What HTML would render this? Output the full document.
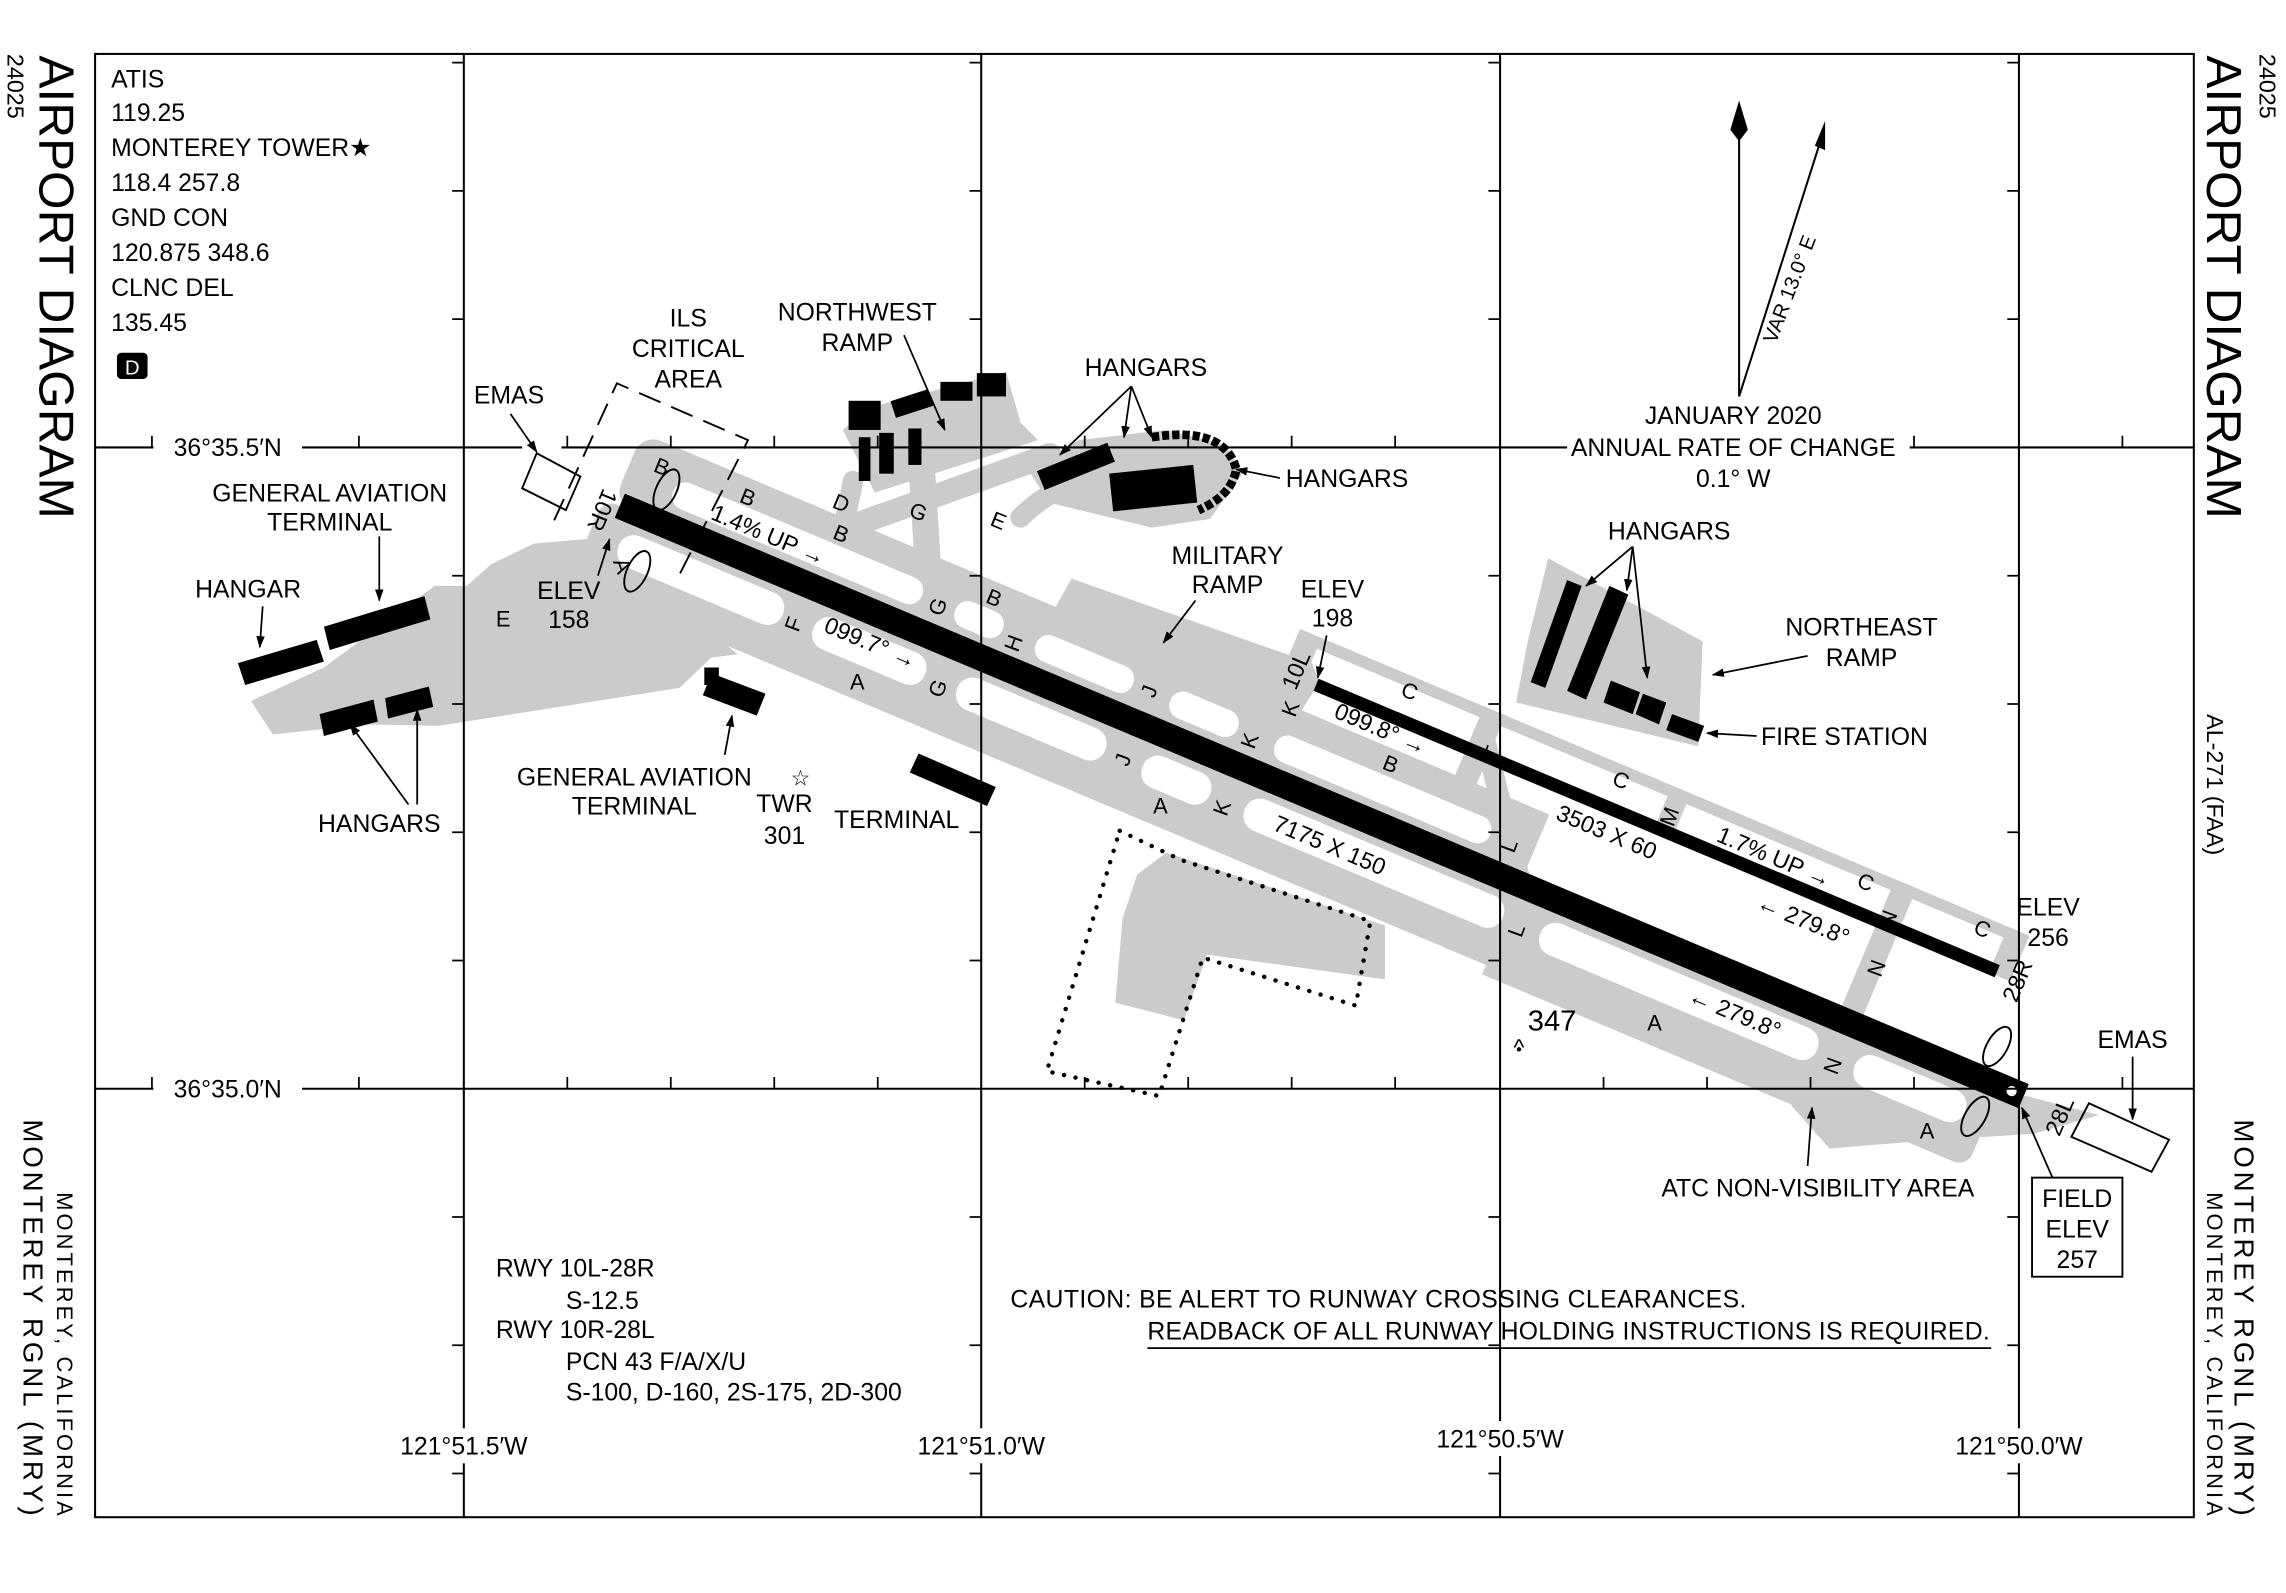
<!DOCTYPE html>
<html><head><meta charset="utf-8"><style>
html,body{margin:0;padding:0;background:#fff}
svg{display:block}
text{font-family:"Liberation Sans",sans-serif;fill:#000}
</style></head><body>
<svg width="2286" height="1593" viewBox="0 0 1568 1093" xmlns="http://www.w3.org/2000/svg">
<defs>
<marker id="ar" viewBox="0 0 10 10" refX="9" refY="5" markerWidth="7" markerHeight="7" orient="auto-start-reverse"><path d="M0,1.5 L10,5 L0,8.5 z" fill="#000"/></marker>
</defs>
<rect width="1568" height="1093" fill="#fff"/>

<!-- ===== GRAY PAVEMENT ===== -->
<g fill="#cbcbcb" stroke="none">
<polygon points="187,504 172,481 222,458 298,402 320,402 337,387 366,373 423,368 440,395 506,449 488,451 466,472 352,490 300,498 250,497"/>
<polygon points="578,295 595,280 690,255 700,290 712,302 650,322 600,338"/>
<polygon points="705,322 740,302 800,295 840,305 852,325 830,356 790,362 720,345"/>
<polygon points="735,397 722,420 890,492 905,468 900,455"/>
<polygon points="1062,383 1168,440 1165,512 1040,482 1048,440"/>
<polygon points="780,600 800,585 950,635 950,672 828,655 812,700 765,688 770,630"/>
<polygon points="1210,730 1300,760 1390,752 1440,765 1395,778 1330,782 1255,788 1230,760"/>
</g>
<g stroke="#cbcbcb" fill="none" stroke-linecap="round">
<line x1="545" y1="375" x2="720" y2="312" stroke-width="16"/>
<line x1="637" y1="398" x2="632" y2="318" stroke-width="18"/>
<line x1="575" y1="380" x2="585" y2="330" stroke-width="14"/>
<path d="M700 355 Q720 335 745 330" stroke-width="14"/>
<line x1="1018" y1="505" x2="1052" y2="640" stroke-width="14"/>
</g>

<g transform="translate(425,347) rotate(22.81)">
 <g fill="#cbcbcb">
  <rect x="-12" y="0" width="1040" height="60" rx="10"/>
  <rect x="-5" y="-52" width="670" height="52" rx="14"/>
  <rect x="465" y="-103" width="540" height="8"/>
  <rect x="463" y="-103" width="16" height="90"/>
  <rect x="740" y="-103" width="14" height="30"/>
  <rect x="906" y="-103" width="16" height="164"/>
  <rect x="990" y="-103" width="16" height="34"/>
  <rect x="600" y="-103" width="16" height="60"/>
  <rect x="640" y="-52" width="30" height="112"/>
  <rect x="670" y="55" width="260" height="12"/>
 </g>
 <g fill="#fff">
  <rect x="10" y="14" width="122" height="23" rx="11"/>
  <rect x="155" y="14" width="83" height="23" rx="11"/>
  <rect x="262" y="14" width="110" height="23" rx="11"/>
  <rect x="400" y="14" width="50" height="23" rx="11"/>
  <rect x="476" y="14" width="192" height="23" rx="11"/>
  <rect x="696" y="14" width="206" height="23" rx="11"/>
  <rect x="930" y="14" width="82" height="23" rx="11"/>
  <rect x="30" y="-33" width="185" height="19" rx="9"/>
  <rect x="240" y="-33" width="35" height="19" rx="9"/>
  <rect x="300" y="-33" width="72" height="19" rx="9"/>
  <rect x="400" y="-33" width="50" height="19" rx="9"/>
  <rect x="478" y="-33" width="160" height="19" rx="9"/>
 </g>
 <rect x="0" y="-9" width="1045" height="18" fill="#000"/>
 <circle cx="1036" cy="0" r="3.5" fill="#fff"/>
 <rect x="488" y="-76.5" width="507" height="9" fill="#000"/>
</g>

<polyline points="768,570 810,590 940,632 930,690 825,657 795,752 718,735 768,570" fill="none" stroke="#000" stroke-width="3" stroke-dasharray="0.1 8" stroke-linecap="round"/>

<!-- ===== BUILDINGS ===== -->
<g fill="#000">
<polygon points="163,455 217,439 222,454 168,470"/>
<polygon points="222,430 291,409 295,425 226,446"/>
<polygon points="219,490 256,480 259,495 222,505"/>
<polygon points="264,479 294,471 297,485 266,493"/>
<polygon points="488,462 525,476 519,491 482,477"/>
<rect x="483" y="458" width="10" height="12"/>
<polygon points="630,517 683,540 677,553 624,530"/>
<rect x="582" y="275" width="22" height="20"/>
<rect x="612" y="271" width="27" height="12" transform="rotate(-18 625 277)"/>
<rect x="645" y="262" width="22" height="13"/>
<rect x="670" y="256" width="20" height="16"/>
<rect x="589" y="300" width="8" height="30"/>
<rect x="603" y="297" width="10" height="28"/>
<rect x="623" y="294" width="9" height="25"/>
<rect x="712" y="313" width="52" height="14" transform="rotate(-22 738 320)"/>
<rect x="762" y="322" width="58" height="26" transform="rotate(-6 790 335)"/>
<polygon points="1050,468 1075,398 1085,402 1060,472"/>
<polygon points="1075,474 1104,402 1117,408 1088,480"/>
<polygon points="1105,467 1125,475 1120,490 1100,482"/>
<polygon points="1127,476 1143,482 1138,497 1122,490"/>
<polygon points="1147,490 1169,498 1165,509 1143,501"/>
<rect x="80" y="242" width="21" height="18" rx="3"/>
</g>
<path d="M790,300 Q840,292 848,322 Q845,340 822,350" fill="none" stroke="#000" stroke-width="6" stroke-dasharray="5 2"/>

<g fill="none" stroke="#000" stroke-width="1.3">
<ellipse cx="457" cy="336" rx="7" ry="15" transform="rotate(25 457 336)"/>
<ellipse cx="437" cy="392" rx="7" ry="15" transform="rotate(25 437 392)"/>
<ellipse cx="1370" cy="718" rx="7" ry="15" transform="rotate(30 1370 718)"/>
<ellipse cx="1355" cy="766" rx="7" ry="15" transform="rotate(30 1355 766)"/>
<polygon points="368,311 398,327 388,350 358,335"/>
<polygon points="1433,757 1488,782 1476,804 1421,780"/>
<rect x="1394" y="808" width="62" height="68"/>
<polyline points="380,357 423,263 513,302 464,398" stroke-dasharray="16 8"/>
</g>

<!-- ===== FRAME & GRID ===== -->
<g stroke="#000" stroke-width="1.4" fill="none">
<rect x="65" y="37" width="1440" height="1004"/>
<line x1="318" y1="37" x2="318" y2="1041"/>
<line x1="673" y1="37" x2="673" y2="1041"/>
<line x1="1029" y1="37" x2="1029" y2="1041"/>
<line x1="1385" y1="37" x2="1385" y2="1041"/>
<path d="M65 307 H105 M207 307 H358 M385 307 H1075 M1310 307 H1505"/>
<path d="M65 747 H105 M207 747 H1505"/>
</g>
<g stroke="#000" stroke-width="1.2">
<path id="vt" d="M310 43H318M310 131H318M310 219H318M310 395H318M310 483H318M310 571H318M310 659H318M310 835H318M310 923H318M310 1011H318"/>
<use href="#vt" x="355"/><use href="#vt" x="711"/><use href="#vt" x="1067"/>
<path d="M104 307V299M246 307V299M389 307V299M460 307V299M531 307V299M602 307V299M744 307V299M815 307V299M886 307V299M957 307V299M1313 307V299M1456 307V299"/>
<path d="M104 747V739M246 747V739M389 747V739M460 747V739M531 747V739M602 747V739M744 747V739M815 747V739M886 747V739M957 747V739M1100 747V739M1171 747V739M1242 747V739M1313 747V739M1456 747V739"/>
</g>
<g fill="#fff">
<rect x="268" y="980" width="100" height="24"/><rect x="623" y="980" width="100" height="24"/>
<rect x="979" y="975" width="100" height="24"/><rect x="1335" y="980" width="100" height="24"/>
</g>

<!-- north arrows -->
<g stroke="#000" stroke-width="1.4" fill="none">
<line x1="1193" y1="272" x2="1193" y2="92"/>
<line x1="1193" y1="272" x2="1251" y2="90"/>
</g>
<polygon points="1193,69 1199,89 1193,97 1187,89" fill="#000"/>
<polygon points="1252,83 1252,103 1245,100" fill="#000"/>
<text transform="translate(1232,200) rotate(-69)" font-size="14" text-anchor="middle">VAR 13.0° E</text>

<!-- ===== ARROWS ===== -->
<g stroke="#000" stroke-width="1.2" fill="none" marker-end="url(#ar)">
<line x1="350" y1="284" x2="368" y2="310"/>
<line x1="260" y1="368" x2="260" y2="412"/>
<line x1="180" y1="416" x2="178" y2="444"/>
<line x1="280" y1="552" x2="240" y2="497"/>
<line x1="286" y1="552" x2="286" y2="487"/>
<line x1="410" y1="395" x2="418" y2="370"/>
<line x1="497" y1="518" x2="502" y2="491"/>
<line x1="620" y1="230" x2="648" y2="295"/>
<line x1="776" y1="265" x2="727" y2="312"/>
<line x1="776" y1="265" x2="771" y2="300"/>
<line x1="776" y1="265" x2="790" y2="300"/>
<line x1="878" y1="328" x2="848" y2="322"/>
<line x1="820" y1="412" x2="798" y2="441"/>
<line x1="910" y1="436" x2="904" y2="465"/>
<line x1="1120" y1="375" x2="1088" y2="402"/>
<line x1="1120" y1="375" x2="1116" y2="405"/>
<line x1="1120" y1="375" x2="1130" y2="465"/>
<line x1="1240" y1="450" x2="1175" y2="463"/>
<line x1="1205" y1="505" x2="1171" y2="503"/>
<line x1="1240" y1="800" x2="1243" y2="760"/>
<line x1="1463" y1="725" x2="1463" y2="768"/>
<line x1="1408" y1="808" x2="1387" y2="760"/>
</g>

<!-- ===== TEXT ===== -->
<g font-size="17">
<text x="76" y="60">ATIS</text>
<text x="76" y="83">119.25</text>
<text x="76" y="107">MONTEREY TOWER★</text>
<text x="76" y="131">118.4 257.8</text>
<text x="76" y="155">GND CON</text>
<text x="76" y="179">120.875 348.6</text>
<text x="76" y="203">CLNC DEL</text>
<text x="76" y="227">135.45</text>
</g>
<text x="90.5" y="257" font-size="14" text-anchor="middle" style="fill:#fff">D</text>

<g font-size="17" text-anchor="middle">
<text x="156" y="313">36°35.5′N</text>
<text x="156" y="753">36°35.0′N</text>
<text x="318" y="998">121°51.5′W</text>
<text x="673" y="998">121°51.0′W</text>
<text x="1029" y="993">121°50.5′W</text>
<text x="1385" y="998">121°50.0′W</text>
<text x="349" y="277">EMAS</text>
<text x="472" y="224">ILS</text><text x="472" y="245">CRITICAL</text><text x="472" y="266">AREA</text>
<text x="588" y="220">NORTHWEST</text><text x="588" y="241">RAMP</text>
<text x="786" y="258">HANGARS</text>
<text x="924" y="334">HANGARS</text>
<text x="226" y="344">GENERAL AVIATION</text><text x="226" y="364">TERMINAL</text>
<text x="170" y="410">HANGAR</text>
<text x="390" y="411">ELEV</text><text x="390" y="431">158</text>
<text x="260" y="571">HANGARS</text>
<text x="435" y="539">GENERAL AVIATION</text><text x="435" y="559">TERMINAL</text>
<text x="538" y="557">TWR</text><text x="538" y="579">301</text>
<text x="615" y="568">TERMINAL</text>
<text x="842" y="387">MILITARY</text><text x="842" y="407">RAMP</text>
<text x="914" y="410">ELEV</text><text x="914" y="430">198</text>
<text x="1145" y="370">HANGARS</text>
<text x="1277" y="436">NORTHEAST</text><text x="1277" y="457">RAMP</text>
<text x="1405" y="628">ELEV</text><text x="1405" y="649">256</text>
<text x="1463" y="719">EMAS</text>
<text x="1425" y="828">FIELD</text><text x="1425" y="849">ELEV</text><text x="1425" y="870">257</text>
<text x="1247" y="821">ATC NON-VISIBILITY AREA</text>
<text x="1189" y="291">JANUARY 2020</text>
<text x="1189" y="313">ANNUAL RATE OF CHANGE</text>
<text x="1189" y="334">0.1° W</text>
</g>
<text x="549" y="539" font-size="15" text-anchor="middle">☆</text>
<text x="1208" y="511" font-size="17">FIRE STATION</text>
<text x="1048" y="707" font-size="20">347</text>
<text x="1042" y="724" font-size="16" text-anchor="middle">^</text>
<circle cx="1042" cy="720" r="1.5" fill="#000"/>

<g font-size="17">
<text x="340" y="876">RWY 10L-28R</text>
<text x="388" y="898">S-12.5</text>
<text x="340" y="918">RWY 10R-28L</text>
<text x="388" y="940">PCN 43 F/A/X/U</text>
<text x="388" y="961">S-100, D-160, 2S-175, 2D-300</text>
<text x="693" y="897" textLength="505">CAUTION: BE ALERT TO RUNWAY CROSSING CLEARANCES.</text>
<text x="787" y="919" textLength="578">READBACK OF ALL RUNWAY HOLDING INSTRUCTIONS IS REQUIRED.</text>
</g>
<line x1="787" y1="925" x2="1366" y2="925" stroke="#000" stroke-width="1.2"/>

<g font-size="16" text-anchor="middle">
<text transform="translate(525,372) rotate(22.8)">1.4% UP →</text>
<text transform="translate(595,446) rotate(22.8)">099.7° →</text>
<text transform="translate(910,585) rotate(22.8)">7175 X 150</text>
<text transform="translate(945,505) rotate(22.8)">099.8° →</text>
<text transform="translate(1100,576) rotate(22.8)">3503 X 60</text>
<text transform="translate(1215,593) rotate(22.8)">1.7% UP →</text>
<text transform="translate(1235,636) rotate(22.8)">← 279.8°</text>
<text transform="translate(1188,700) rotate(22.8)">← 279.8°</text>
<text transform="translate(408,348) rotate(112.8)">10R</text>
<text transform="translate(894,462) rotate(-67)">10L</text>
<text transform="translate(1389,675) rotate(-67)">28R</text>
<text transform="translate(1418,768) rotate(-67)">28L</text>
</g>
<g font-size="15" text-anchor="middle">
<text transform="translate(452,325) rotate(22)">B</text>
<text transform="translate(422,390) rotate(70)">A</text>
<text x="345" y="430">E</text>
<text transform="translate(511,346) rotate(22)">B</text>
<text transform="translate(575,350) rotate(22)">D</text>
<text transform="translate(628,356) rotate(22)">G</text>
<text transform="translate(683,362) rotate(22)">E</text>
<text transform="translate(575,371) rotate(22)">B</text>
<text transform="translate(549,430) rotate(-70)">F</text>
<text transform="translate(648,418) rotate(-70)">G</text>
<text transform="translate(648,474) rotate(-70)">G</text>
<text transform="translate(680,415) rotate(22)">B</text>
<text transform="translate(700,443) rotate(-70)">H</text>
<text x="588" y="473">A</text>
<text transform="translate(793,476) rotate(-70)">J</text>
<text transform="translate(775,523) rotate(-70)">J</text>
<text transform="translate(862,510) rotate(-70)">K</text>
<text transform="translate(843,556) rotate(-70)">K</text>
<text transform="translate(890,488) rotate(-70)">K</text>
<text x="796" y="558">A</text>
<text transform="translate(965,479) rotate(22)">C</text>
<text transform="translate(952,529) rotate(22)">B</text>
<text transform="translate(1020,515) rotate(-70)">L</text>
<text transform="translate(1040,582) rotate(-70)">L</text>
<text transform="translate(1045,640) rotate(-70)">L</text>
<text transform="translate(1110,540) rotate(22)">C</text>
<text transform="translate(1150,562) rotate(-70)">M</text>
<text transform="translate(1278,610) rotate(22)">C</text>
<text transform="translate(1300,632) rotate(-70)">N</text>
<text transform="translate(1358,642) rotate(22)">C</text>
<text transform="translate(1292,666) rotate(-70)">N</text>
<text transform="translate(1262,733) rotate(-70)">N</text>
<text x="1135" y="707">A</text>
<text x="1322" y="781">A</text>
</g>

<text transform="translate(27,38) rotate(90)" font-size="34">AIRPORT DIAGRAM</text>
<text transform="translate(5,37) rotate(90)" font-size="16">24025</text>
<text transform="translate(1514,38) rotate(90)" font-size="34">AIRPORT DIAGRAM</text>
<text transform="translate(1550,37) rotate(90)" font-size="16">24025</text>
<text transform="translate(1514,490) rotate(90)" font-size="16">AL-271 (FAA)</text>
<text transform="translate(16,768) rotate(90)" font-size="19" textLength="272">MONTEREY RGNL (MRY)</text>
<text transform="translate(39,818) rotate(90)" font-size="15" textLength="222">MONTEREY, CALIFORNIA</text>
<text transform="translate(1533,768) rotate(90)" font-size="19" textLength="272">MONTEREY RGNL (MRY)</text>
<text transform="translate(1514,818) rotate(90)" font-size="15" textLength="222">MONTEREY, CALIFORNIA</text>
</svg>
</body></html>
